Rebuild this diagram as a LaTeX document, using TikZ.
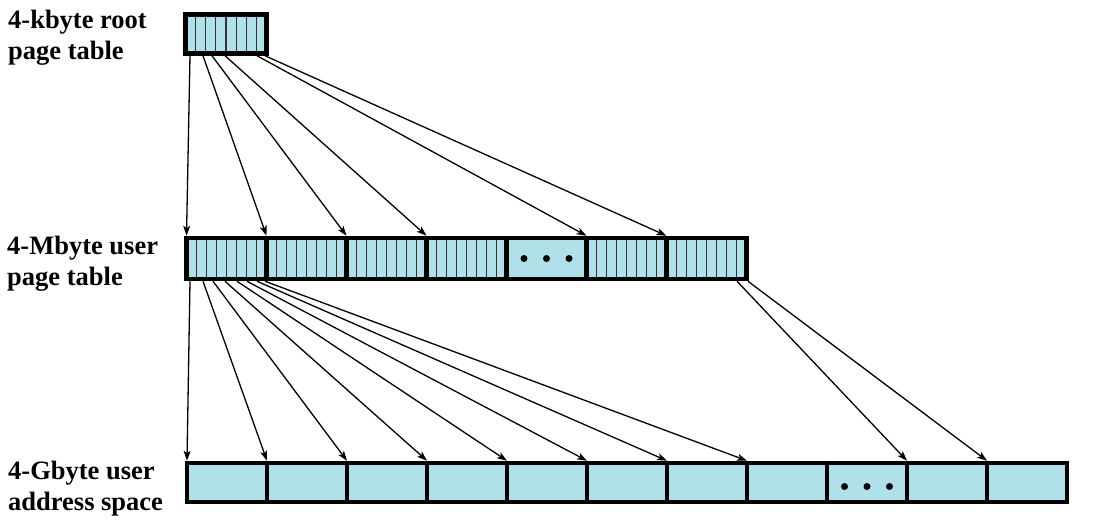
\documentclass[tikz,border=0pt]{standalone}
\usepackage{fontspec}
\setmainfont{Liberation Serif}
\usetikzlibrary{calc,arrows.meta}
\definecolor{cellblue}{RGB}{176,224,234}
\begin{document}
\begin{tikzpicture}[x=1pt,y=-1pt,
  cell/.style={rectangle,draw=black,line width=4.5pt,fill=cellblue,inner sep=0pt,outer xsep=0pt,minimum width=80pt,minimum height=39pt},
  striped/.style={path picture={\foreach \i in {1,...,7}{\draw[black!80,line width=1.2pt] ($(path picture bounding box.south west)!\i/8!(path picture bounding box.south east)$) -- ($(path picture bounding box.north west)!\i/8!(path picture bounding box.north east)$);}}},
  conn/.style={line width=1.3pt,-{Stealth[length=10pt,width=7pt,inset=2.5pt]}},
  lbl/.style={anchor=north west,inner sep=0pt,align=left,font=\fontsize{26.5}{31}\selectfont\bfseries},
  dotmark/.style={fill=black}]
\useasboundingbox (0,0) rectangle (1093,525);
% labels
\node[lbl] (lroot) at (8,9.5) {4-kbyte root\\page table};
\node[lbl] (luser) at (7,235.5) {4-Mbyte user\\page table};
\node[lbl] (lgb) at (8,460.5) {4-Gbyte user\\address space};
% root page table
\node[cell,striped,minimum width=81pt] (root) at (226,34) {};
% user page table
\node[cell,striped,minimum height=41pt] (u1) at (226.5,258.5) {};
\node[cell,striped,minimum height=41pt] (u2) at (306.5,258.5) {};
\node[cell,striped,minimum height=41pt] (u3) at (386.5,258.5) {};
\node[cell,striped,minimum height=41pt] (u4) at (466.5,258.5) {};
\node[cell,minimum height=41pt] (u5) at (546.5,258.5) {};
\node[cell,striped,minimum height=41pt] (u6) at (626.5,258.5) {};
\node[cell,striped,minimum height=41pt] (u7) at (706.5,258.5) {};
\foreach \d in {-22.5,0,22.5} \fill[dotmark] ($(u5.center)+(\d,0)$) circle (3.5);
% user address space
\foreach \k in {1,...,11} \node[cell] (g\k) at ({147+80*\k},482.5) {};
\foreach \d in {-22.5,0,22.5} \fill[dotmark] ($(g9.center)+(\d,4)$) circle (3.5);
% start points
\foreach \n/\o in {1/4.5,2/17.5,3/26.5,4/39.5,5/71.5,6/79.5}
  \coordinate (rs\n) at ($(root.south west)+(\o,0)$);
\foreach \n/\o in {1/3.5,2/16.5,3/26.5,4/38.5,5/50.5,6/60.5,7/70.5,8/78.5}
  \coordinate (us\n) at ($(u1.south west)+(\o,0)$);
\coordinate (us9) at ($(u7.south east)+(-9.5,0)$);
\coordinate (us10) at ($(u7.south east)+(1.5,0)$);
% connectors root -> user page table
\foreach \s/\t in {rs1/u1,rs2/u2,rs3/u3,rs4/u4,rs5/u6,rs6/u7}
  \draw[conn] (\s) -- (\t.north west);
% connectors user page table -> address space
\foreach \s/\t in {us1/g1,us2/g2,us3/g3,us4/g4,us5/g5,us6/g6,us7/g7,us8/g8,us9/g10,us10/g11}
  \draw[conn] (\s) -- (\t.north west);
\end{tikzpicture}
\end{document}
